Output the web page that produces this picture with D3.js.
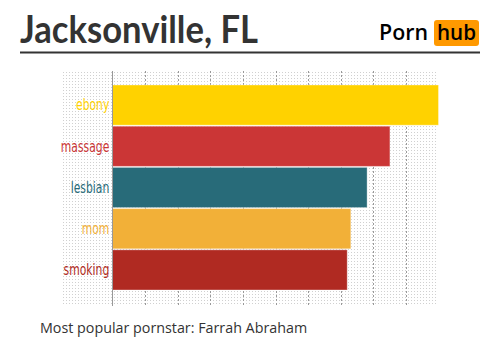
<!DOCTYPE html>
<html><head><meta charset="utf-8">
<script src="https://cdn.jsdelivr.net/npm/d3@7"></script>
<style>body{margin:0;background:#fff;}svg{display:block;}</style>
</head><body>
<svg id="c" width="500" height="353"></svg>
<script>
const title = "Jacksonville, FL";
const footer = "Most popular pornstar: Farrah Abraham";
const categories = ["ebony","massage","lesbian","mom","smoking"];
const values = [100, 85.1, 78.1, 73.1, 72.0];
const colors = ["#ffd200","#cb3636","#286b79","#f2b038","#b02a22"];
const ticks = [0,10,20,30,40,50,60,70,80,90,100];

const svg = d3.select("#c");
const defs = svg.append("defs");
const pat = defs.append("pattern").attr("id","dots").attr("width",3).attr("height",3).attr("patternUnits","userSpaceOnUse");
pat.append("rect").attr("x",0).attr("y",0).attr("width",1).attr("height",1).attr("fill","#d0d0d0");

// title
svg.append("text").attr("x",20).attr("y",43).text(title)
  .attr("font-family","Lato, 'Open Sans', sans-serif").attr("font-weight","bold")
  .attr("font-size",38).attr("fill","#333")
  .attr("textLength",238).attr("lengthAdjust","spacingAndGlyphs");
svg.append("rect").attr("x",20).attr("y",51.5).attr("width",460).attr("height",2).attr("fill","#333");

// logo
svg.append("text").attr("x",379).attr("y",40).text("Porn")
  .attr("font-family","'Open Sans', Arial, sans-serif").attr("font-weight","600")
  .attr("font-size",21).attr("fill","#000")
  .attr("textLength",49).attr("lengthAdjust","spacingAndGlyphs");
svg.append("rect").attr("x",434).attr("y",20).attr("width",45).attr("height",26).attr("rx",3).attr("fill","#ff9900");
svg.append("text").attr("x",437).attr("y",40).text("hub")
  .attr("font-family","'Open Sans', Arial, sans-serif").attr("font-weight","600")
  .attr("font-size",21).attr("fill","#000")
  .attr("textLength",39).attr("lengthAdjust","spacingAndGlyphs");

// chart
const x = d3.scaleLinear().domain([0,100]).range([112.5,438.5]);
const y = d3.scaleBand().domain(categories).range([85,290]).paddingInner(0.025);

svg.append("rect").attr("x",61).attr("y",71).attr("width",377).attr("height",235).attr("fill","url(#dots)");

const grid = svg.append("g");
grid.selectAll("line").data(ticks.slice(1,-1)).join("line")
  .attr("x1",d=>Math.round(x(d))+0.5).attr("x2",d=>Math.round(x(d))+0.5)
  .attr("y1",71).attr("y2",306)
  .attr("stroke","#999").attr("stroke-width",1).attr("stroke-dasharray","2,2");

svg.append("g").selectAll("rect").data(categories).join("rect")
  .attr("x",x(0)).attr("y",d=>y(d)).attr("width",(d,i)=>x(values[i])-x(0)).attr("height",y.bandwidth())
  .attr("fill",(d,i)=>colors[i])
  .attr("stroke","rgba(255,255,255,0.35)").attr("stroke-width",1);

const ax = svg.append("g").attr("transform",`translate(${x(0)},0)`)
  .call(d3.axisLeft(y).tickSize(0).tickPadding(4));
ax.select(".domain").remove();
ax.selectAll("text").attr("fill",(d,i)=>colors[i])
  .attr("font-family","'DejaVu Sans Condensed', sans-serif")
  .attr("font-size",15).attr("dy","0.35em")
  .attr("transform","scale(0.8,1)");
svg.append("line").attr("x1",112.5).attr("x2",112.5).attr("y1",71).attr("y2",306).attr("stroke","#999").attr("stroke-width",1);

svg.append("text").attr("x",40).attr("y",333).text(footer)
  .attr("font-family","'Open Sans', sans-serif").attr("font-size",14.3).attr("fill","#333");
</script>
</body></html>
